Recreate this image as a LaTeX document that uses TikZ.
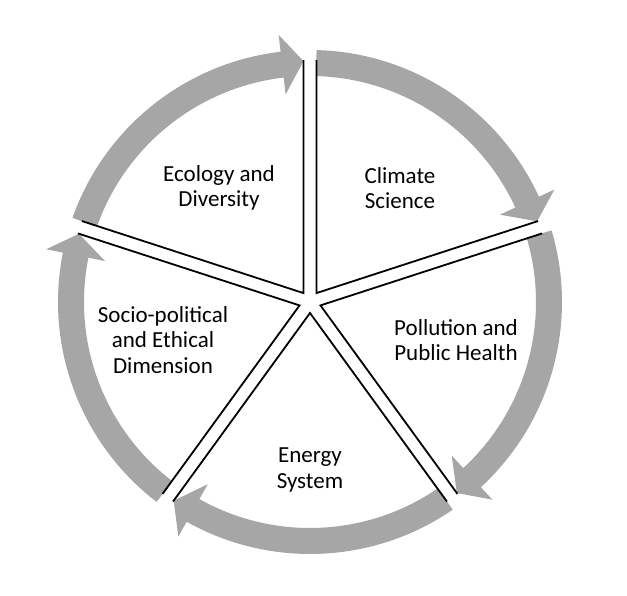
\documentclass[tikz,border=0pt]{standalone}
\usepackage{fontspec}
\setmainfont{Carlito}
\definecolor{arcgray}{RGB}{166,166,166}
\begin{document}
\begin{tikzpicture}[x=1pt,y=1pt,
  arcfill/.style={fill=arcgray},
  sepline/.style={line width=1.8pt,line join=miter},
  label/.style={align=center,font=\fontsize{23}{25.5}\selectfont}]
\useasboundingbox (-310,-294) rectangle (317,302);
% gray arrows, clockwise
\fill[arcfill] (88.5:252) arc[start angle=88.5,end angle=24.7,radius=252] -- (24.7:269) -- (19.55:241) -- (24.7:209) -- (24.7:226) arc[start angle=24.7,end angle=88.5,radius=226] -- cycle;
\fill[arcfill] (16.5:252) arc[start angle=16.5,end angle=-47.3,radius=252] -- (-47.3:269) -- (-52.45:241) -- (-47.3:209) -- (-47.3:226) arc[start angle=-47.3,end angle=16.5,radius=226] -- cycle;
\fill[arcfill] (-55.5:252) arc[start angle=-55.5,end angle=-119.3,radius=252] -- (-119.3:269) -- (-124.45:241) -- (-119.3:209) -- (-119.3:226) arc[start angle=-119.3,end angle=-55.5,radius=226] -- cycle;
\fill[arcfill] (-127.5:252) arc[start angle=-127.5,end angle=-191.3,radius=252] -- (-191.3:269) -- (-196.45:241) -- (-191.3:209) -- (-191.3:226) arc[start angle=-191.3,end angle=-127.5,radius=226] -- cycle;
\fill[arcfill] (160.5:252) arc[start angle=160.5,end angle=96.7,radius=252] -- (96.7:269) -- (91.55:241) -- (96.7:209) -- (96.7:226) arc[start angle=96.7,end angle=160.5,radius=226] -- cycle;
% rim ends of the separators
\coordinate (s1a) at (91.54:242);   \coordinate (s1b) at (88.46:242);
\coordinate (s2a) at (19.54:242);   \coordinate (s2b) at (16.46:242);
\coordinate (s3a) at (-52.46:242);  \coordinate (s3b) at (-55.54:242);
\coordinate (s4a) at (-124.46:242); \coordinate (s4b) at (-127.54:242);
\coordinate (s5a) at (163.54:242);  \coordinate (s5b) at (160.46:242);
% slice corners
\coordinate (vclim) at (54:11);
\coordinate (vpoll) at (-18:11);
\coordinate (vener) at (-90:11);
\coordinate (vsoc) at (-162:11);
\coordinate (veco) at (126:11);
\draw[sepline] (s1b) -- (vclim) -- (s2a);
\draw[sepline] (s2b) -- (vpoll) -- (s3a);
\draw[sepline] (s3b) -- (vener) -- (s4a);
\draw[sepline] (s4b) -- (vsoc) -- (s5a);
\draw[sepline] (s5b) -- (veco) -- (s1a);
% texts
\node[label] (ecology) at (-91,114) {Ecology and\\Diversity};
\node[label] (climate) at (90,114) {Climate\\Science};
\node[label] (pollution) at (146,-38) {Pollution and\\Public Health};
\node[label] (energy) at (0,-168) {Energy\\System};
\node[label] (socio) at (-147,-38) {Socio-political\\and Ethical\\Dimension};
\end{tikzpicture}
\end{document}
